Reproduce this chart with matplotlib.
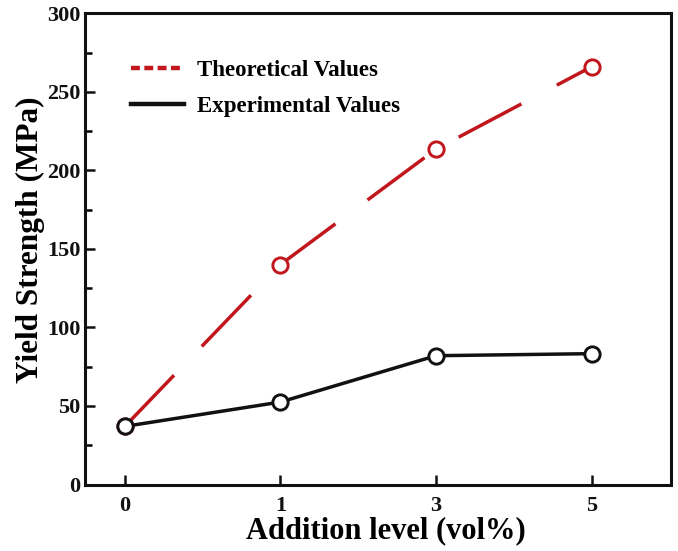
import matplotlib
matplotlib.use("Agg")
import matplotlib.pyplot as plt
from matplotlib.lines import Line2D
from matplotlib.ticker import MultipleLocator

# Data
addition_levels = ["0", "1", "3", "5"]
theoretical = [37, 140, 213.5, 266]
experimental = [37, 52.5, 82, 83.3]

RED = "#c2161d"
BLACK = "#111111"

plt.rcParams["font.family"] = ["Liberation Serif", "DejaVu Serif"]
plt.rcParams["font.weight"] = "bold"

fig = plt.figure(figsize=(6.78, 5.51), dpi=100)
# axes box in pixel terms: left 85, right 671, top 13.3, bottom 484.5
L, R, T, B = 85, 671, 13.3, 484.5
W, H = R - L, B - T
ax = fig.add_axes([L / 678, 1 - B / 551, W / 678, H / 551])

xpos = list(range(len(addition_levels)))

lw = 2.5
ax.plot(xpos, theoretical, color=RED, lw=lw, linestyle=(0, (51.1 / lw, 28.8 / lw)),
        marker="o", ms=11, mfc="white", mec=RED, mew=2.1, zorder=3)
ax.plot(xpos, experimental, color=BLACK, lw=lw, linestyle="-",
        marker="o", ms=11, mfc="white", mec=BLACK, mew=2.1, zorder=4)

ax.set_xlim(-0.256, 3.51)
ax.set_ylim(0, 300)
ax.set_xticks(xpos)
ax.set_xticklabels(addition_levels)
ax.yaxis.set_major_locator(MultipleLocator(50))
ax.yaxis.set_minor_locator(MultipleLocator(25))

for s in ax.spines.values():
    s.set_linewidth(2.2)
    s.set_color(BLACK)

ax.tick_params(axis="both", which="major", direction="in", length=7, width=1.8,
               labelsize=16, colors=BLACK)
ax.tick_params(axis="y", which="major", pad=3.5)
ax.tick_params(axis="x", which="major", pad=8.5)
ax.tick_params(axis="y", which="minor", direction="in", length=5, width=1.8)
for lbl in ax.get_xticklabels() + ax.get_yticklabels():
    lbl.set_fontweight("bold")

ax.set_xlabel("Addition level (vol%)", fontsize=22, fontweight="bold")
ax.set_ylabel("Yield Strength (MPa)", fontsize=22.5, fontweight="bold")
ax.xaxis.set_label_coords((386 - L) / W, -(516 - B) / H)
ax.xaxis.label.set_va("top")
ax.yaxis.set_label_coords(-(L - 30) / W, (B - 240) / H)
ax.yaxis.label.set_va("center")

handles = [
    Line2D([], [], color=RED, lw=3.2, linestyle=(0, (2.0, 1.0))),
    Line2D([], [], color=BLACK, lw=3.2, linestyle="-"),
]
ax.legend(handles, ["Theoretical Values", "Experimental Values"],
          loc="upper left", bbox_to_anchor=(0.043, 0.944), frameon=False,
          prop={"size": 16.5, "weight": "bold"}, handlelength=2.3,
          handletextpad=0.6, labelspacing=0.65)

fig.savefig("out.png", dpi=100, facecolor="white")
